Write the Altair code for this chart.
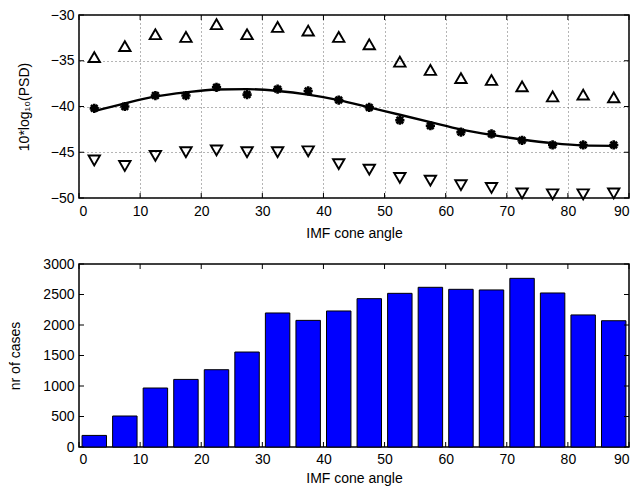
import altair as alt
import pandas as pd

# ---- data ----
angles = [2.5, 7.5, 12.5, 17.5, 22.5, 27.5, 32.5, 37.5, 42.5,
          47.5, 52.5, 57.5, 62.5, 67.5, 72.5, 77.5, 82.5, 87.5]
psd_upper = [-34.6, -33.4, -32.1, -32.4, -31.0, -32.1, -31.3, -31.7, -32.4,
             -33.2, -35.1, -36.0, -36.9, -37.1, -37.8, -38.9, -38.7, -39.0]
psd_mean = [-40.2, -40.0, -38.8, -38.8, -37.9, -38.7, -38.1, -38.3, -39.3,
            -40.1, -41.5, -42.1, -42.8, -43.0, -43.7, -44.2, -44.2, -44.2]
psd_lower = [-45.9, -46.5, -45.4, -45.0, -44.8, -45.0, -45.0, -44.9, -46.3,
             -46.9, -47.8, -48.1, -48.6, -48.9, -49.5, -49.6, -49.6, -49.5]
psd_fit = [-40.5, -39.65, -38.9, -38.45, -38.15, -38.1, -38.3, -38.7, -39.3,
           -40.1, -40.9, -41.7, -42.5, -43.1, -43.6, -44.0, -44.25, -44.3]
counts = [190, 508, 967, 1108, 1267, 1557, 2197, 2076, 2230,
          2432, 2519, 2618, 2585, 2575, 2765, 2525, 2165, 2070]
bar_width = 4
x_ticks = [0, 10, 20, 30, 40, 50, 60, 70, 80, 90]
psd_ticks = [-50, -45, -40, -35, -30]
count_ticks = [0, 500, 1000, 1500, 2000, 2500, 3000]

X_TITLE = "IMF cone angle"
PSD_TITLE = "10*log\u2081\u2080(PSD)"
CNT_TITLE = "nr of cases"

W, H = 550, 183
TICK = 5
FONT = "Liberation Sans"

df = pd.DataFrame({"angle": angles, "upper": psd_upper, "mean": psd_mean,
                   "lower": psd_lower, "fit": psd_fit, "count": counts})
xt = pd.DataFrame({"t": x_ticks})

xscale = alt.Scale(domain=[0, 90], nice=False, zero=False)


def xaxis(grid, lp, tp):
    return alt.Axis(values=x_ticks, format="d", ticks=False, domain=False,
                    labelPadding=lp, titlePadding=tp, grid=grid,
                    gridDash=[1, 3], gridColor="#444444", gridWidth=0.8,
                    labelFlush=True)


def yaxis(vals, grid, tp):
    return alt.Axis(values=vals, format="d", ticks=False, domain=False,
                    labelPadding=5, titlePadding=tp, grid=grid,
                    gridDash=[1, 3], gridColor="#444444", gridWidth=0.8,
                    labelFlush=False)


def tick_layers(yvals, yscale, ytitle, xax, yax):
    yt = pd.DataFrame({"t": yvals})
    bottom = alt.Chart(xt).mark_rule(color="black", strokeWidth=1).encode(
        x=alt.X("t:Q", scale=xscale, axis=xax, title=X_TITLE),
        y=alt.value(H), y2=alt.value(H - TICK))
    top = alt.Chart(xt).mark_rule(color="black", strokeWidth=1).encode(
        x=alt.X("t:Q", scale=xscale, axis=xax, title=X_TITLE),
        y=alt.value(0), y2=alt.value(TICK))
    left = alt.Chart(yt).mark_rule(color="black", strokeWidth=1).encode(
        y=alt.Y("t:Q", scale=yscale, axis=yax, title=ytitle),
        x=alt.value(0), x2=alt.value(TICK))
    right = alt.Chart(yt).mark_rule(color="black", strokeWidth=1).encode(
        y=alt.Y("t:Q", scale=yscale, axis=yax, title=ytitle),
        x=alt.value(W), x2=alt.value(W - TICK))
    return [bottom, top, left, right]


# ---- top panel ----
psd_scale = alt.Scale(domain=[-50, -30], nice=False, zero=False)
x_top = xaxis(True, 6, 8)
y_top = yaxis(psd_ticks, True, 19)
base = alt.Chart(df)

fit_line = base.mark_line(color="black", strokeWidth=2.4, interpolate="monotone").encode(
    x=alt.X("angle:Q", scale=xscale, axis=x_top, title=X_TITLE),
    y=alt.Y("fit:Q", scale=psd_scale, axis=y_top, title=PSD_TITLE))

star = "M-1,0L1,0M0,-1L0,1M-0.72,-0.72L0.72,0.72M-0.72,0.72L0.72,-0.72"
mean_pts = base.mark_point(shape=star, filled=False, color="black",
                           strokeWidth=2.6, size=85, opacity=1).encode(
    x=alt.X("angle:Q", scale=xscale, axis=x_top, title=X_TITLE),
    y=alt.Y("mean:Q", scale=psd_scale, axis=y_top, title=PSD_TITLE))

up_pts = base.mark_point(shape="triangle-up", filled=False, color="black",
                         strokeWidth=1.9, size=130, opacity=1).encode(
    x=alt.X("angle:Q", scale=xscale, axis=x_top, title=X_TITLE),
    y=alt.Y("upper:Q", scale=psd_scale, axis=y_top, title=PSD_TITLE))

down_pts = base.mark_point(shape="triangle-down", filled=False, color="black",
                           strokeWidth=1.9, size=130, opacity=1).encode(
    x=alt.X("angle:Q", scale=xscale, axis=x_top, title=X_TITLE),
    y=alt.Y("lower:Q", scale=psd_scale, axis=y_top, title=PSD_TITLE))

top_panel = alt.layer(fit_line, mean_pts, up_pts, down_pts,
                      *tick_layers(psd_ticks, psd_scale, PSD_TITLE, x_top, y_top)
                      ).properties(width=W, height=H)

# ---- bottom panel ----
cnt_scale = alt.Scale(domain=[0, 3000], nice=False, zero=True)
x_bot = xaxis(False, 5, 5)
y_bot = yaxis(count_ticks, False, 20)
bars = base.transform_calculate(
    lo=f"datum.angle - {bar_width / 2}", hi=f"datum.angle + {bar_width / 2}"
).mark_bar(color="#0000ff", stroke="black", strokeWidth=1).encode(
    x=alt.X("lo:Q", scale=xscale, axis=x_bot, title=X_TITLE),
    x2="hi:Q",
    y=alt.Y("count:Q", scale=cnt_scale, axis=y_bot, title=CNT_TITLE),
    y2=alt.datum(0))

bottom_panel = alt.layer(bars, *tick_layers(count_ticks, cnt_scale, CNT_TITLE, x_bot, y_bot)
                         ).properties(width=W, height=H)

chart = alt.vconcat(top_panel, bottom_panel, spacing=15).properties(
    padding={"left": 0, "top": -1, "right": 0, "bottom": 0}
).configure(font=FONT).configure_view(
    stroke="black", strokeWidth=1.5
).configure_axis(
    labelFontSize=14, titleFontSize=14, titleFontWeight="normal",
    labelColor="black", titleColor="black", labelFont=FONT, titleFont=FONT
)

chart.save("out.html", embed_options={"renderer": "svg", "actions": False})
